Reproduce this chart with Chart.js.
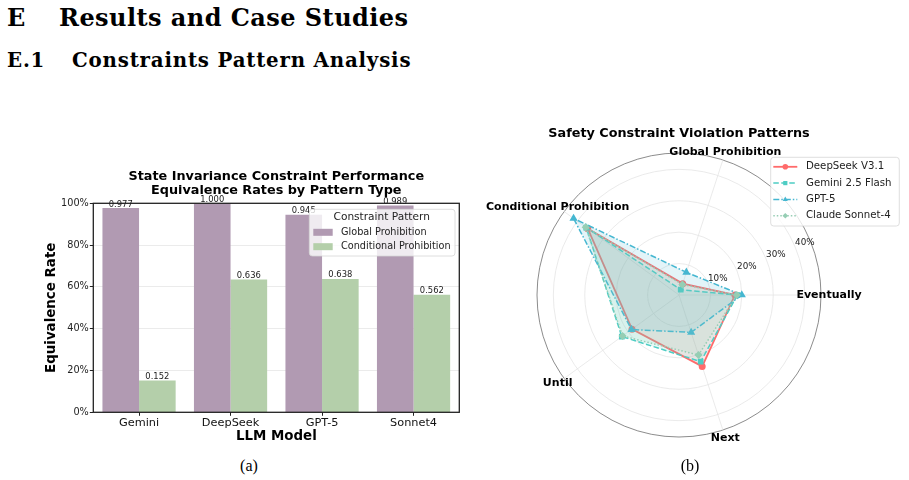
<!DOCTYPE html>
<html>
<head>
<meta charset="utf-8">
<script src="https://cdn.jsdelivr.net/npm/chart.js@4.4.1/dist/chart.umd.min.js"></script>
<style>
  html, body { margin: 0; padding: 0; background: #fff; }
  body { width: 909px; height: 480px; position: relative; overflow: hidden; }
  .hd { position: absolute; font-family: "DejaVu Serif", serif; font-weight: bold; line-height: 1; white-space: nowrap; color: #000; }
  .h1 { font-size: 24px; top: 6px; letter-spacing: 0.45px; }
  .h2 { font-size: 19.8px; top: 51px; letter-spacing: 0.8px; }
  .cap { position: absolute; font-family: "Liberation Serif", serif; font-size: 16px; line-height: 18px; top: 457px; width: 40px; text-align: center; color: #000; }
  canvas { position: absolute; }
</style>
</head>
<body>
<div class="hd h1" style="left:7px">E</div>
<div class="hd h1" style="left:59px">Results and Case Studies</div>
<div class="hd h2" style="left:7px">E.1</div>
<div class="hd h2" style="left:72px">Constraints Pattern Analysis</div>

<canvas id="barChartCanvas" width="470" height="300" style="left:0;top:150px"></canvas>
<canvas id="radarChartCanvas" width="429" height="345" style="left:480px;top:118px"></canvas>

<div class="cap" style="left:229px">(a)</div>
<div class="cap" style="left:670px">(b)</div>

<script>
Chart.defaults.font.family = "'DejaVu Sans', sans-serif";
Chart.defaults.color = '#222';

// 막대 차트 데이터
const models = ['Gemini', 'DeepSeek', 'GPT-5', 'Sonnet4'];
const globalRates = [0.977, 1.000, 0.945, 0.989];
const conditionalRates = [0.152, 0.636, 0.638, 0.562];
const rateTicks = [0, 0.2, 0.4, 0.6, 0.8, 1.0];

// 레이더 차트 데이터 (시계방향, 오른쪽부터)
const patternLabels = ['Eventually', 'Next', 'Until', 'Conditional Prohibition', 'Global Prohibition'];
const deepseekRates = [17.8, 23.9, 18.5, 35.9, 3.8];
const geminiRates = [18.6, 22.3, 22.5, 36.5, 1.8];
const gpt5Rates = [20.0, 12.5, 18.7, 41.5, 7.6];
const claudeRates = [18.4, 20.1, 22.2, 36.7, 3.5];
const radialTicks = [0, 10, 20, 30, 40];
const radialMax = 45.2;

const purple = '#b19ab2';
const green = '#b4cfaa';

function roundRect(ctx, x, y, w, h, r) {
    ctx.beginPath();
    ctx.moveTo(x + r, y);
    ctx.lineTo(x + w - r, y);
    ctx.arcTo(x + w, y, x + w, y + r, r);
    ctx.lineTo(x + w, y + h - r);
    ctx.arcTo(x + w, y + h, x + w - r, y + h, r);
    ctx.lineTo(x + r, y + h);
    ctx.arcTo(x, y + h, x, y + h - r, r);
    ctx.lineTo(x, y + r);
    ctx.arcTo(x, y, x + r, y, r);
    ctx.closePath();
}

function marker(ctx, style, x, y, r) {
    ctx.beginPath();
    if (style === 'circle') {
        ctx.arc(x, y, r, 0, Math.PI * 2);
    } else if (style === 'rect') {
        ctx.rect(x - r * 0.75, y - r * 0.75, r * 1.5, r * 1.5);
    } else if (style === 'triangle') {
        ctx.moveTo(x, y - r);
        ctx.lineTo(x + r * 0.9, y + r * 0.6);
        ctx.lineTo(x - r * 0.9, y + r * 0.6);
        ctx.closePath();
    } else {
        ctx.moveTo(x, y - r);
        ctx.lineTo(x + r, y);
        ctx.lineTo(x, y + r);
        ctx.lineTo(x - r, y);
        ctx.closePath();
    }
    ctx.fill();
}

// 막대 차트 꾸미기: 값, 제목, 범례, 테두리
const barDecor = {
    id: 'barDecor',
    afterDatasetsDraw(chart) {
        const ctx = chart.ctx;
        const a = chart.chartArea;
        ctx.save();

        ctx.font = "8.4px 'DejaVu Sans'";
        ctx.fillStyle = '#222';
        ctx.textAlign = 'center';
        ctx.textBaseline = 'alphabetic';
        chart.data.datasets.forEach((ds, i) => {
            chart.getDatasetMeta(i).data.forEach((bar, j) => {
                ctx.fillText(ds.data[j].toFixed(3), bar.x, bar.y - 1.5);
            });
        });

        const cx = (a.left + a.right) / 2;
        ctx.font = "bold 12.8px 'DejaVu Sans'";
        ctx.fillStyle = '#000';
        ctx.textBaseline = 'middle';
        ctx.fillText('State Invariance Constraint Performance', cx, a.top - 27);
        ctx.fillText('Equivalence Rates by Pattern Type', cx, a.top - 12.8);

        // 범례
        const lx = a.right - 150, ly = a.top + 6;
        roundRect(ctx, lx, ly, 145.7, 46.7, 3);
        ctx.fillStyle = 'rgba(255,255,255,0.8)';
        ctx.fill();
        ctx.strokeStyle = '#d6d6d6';
        ctx.lineWidth = 0.8;
        ctx.stroke();
        ctx.fillStyle = '#222';
        ctx.font = "10.6px 'DejaVu Sans'";
        ctx.fillText('Constraint Pattern', lx + 72.4, ly + 8);
        ctx.textAlign = 'left';
        ctx.font = "9.7px 'DejaVu Sans'";
        chart.data.datasets.forEach((ds, i) => {
            const yy = ly + 23 + i * 14.4;
            ctx.fillStyle = ds.backgroundColor;
            ctx.fillRect(lx + 4, yy - 3.5, 19.4, 7);
            ctx.fillStyle = '#222';
            ctx.fillText(ds.label, lx + 31.7, yy);
        });

        ctx.strokeStyle = '#222';
        ctx.lineWidth = 1.3;
        ctx.strokeRect(a.left, a.top, a.right - a.left, a.bottom - a.top);
        ctx.restore();
    }
};

new Chart(document.getElementById('barChartCanvas'), {
    type: 'bar',
    data: {
        labels: models,
        datasets: [{
            label: 'Global Prohibition',
            data: globalRates,
            backgroundColor: purple,
            categoryPercentage: 0.8,
            barPercentage: 1.0
        }, {
            label: 'Conditional Prohibition',
            data: conditionalRates,
            backgroundColor: green,
            categoryPercentage: 0.8,
            barPercentage: 1.0
        }]
    },
    options: {
        responsive: false,
        animation: false,
        layout: { padding: { left: 0, right: 10.7, top: 53.3, bottom: 0 } },
        plugins: { legend: { display: false }, tooltip: { enabled: false } },
        scales: {
            x: {
                afterFit: s => { s.height = 37.7; },
                grid: { offset: false, drawOnChartArea: false, tickLength: 3.5, tickColor: '#222', tickWidth: 1 },
                border: { display: false },
                ticks: { font: { size: 11.3 }, color: '#111', padding: 0.5 },
                title: {
                    display: true, text: 'LLM Model', color: '#000',
                    font: { size: 13.4, weight: 'bold' },
                    padding: { top: 0, bottom: 5 }
                }
            },
            y: {
                min: 0,
                max: 1,
                afterFit: s => { s.width = 93.3; },
                afterBuildTicks: s => { s.ticks = rateTicks.map(v => ({ value: v })); },
                grid: {
                    color: c => (c.tick && c.tick.value > 0.01 && c.tick.value < 0.99) ? '#e6e6e6' : 'rgba(0,0,0,0)',
                    lineWidth: 0.8,
                    tickLength: 3.5,
                    tickColor: '#222',
                    tickWidth: 1
                },
                border: { display: false },
                ticks: {
                    callback: v => Math.round(v * 100) + '%',
                    font: { size: 9.7 }, color: '#222', padding: 1
                },
                title: {
                    display: true, text: 'Equivalence Rate', color: '#000',
                    font: { size: 13.4, weight: 'bold' },
                    padding: { top: 43.7, bottom: 0 }
                }
            }
        }
    },
    plugins: [barDecor]
});

// 레이더 차트 꾸미기: 눈금 글자, 축 이름, 제목, 범례
const radarDecor = {
    id: 'radarDecor',
    afterDatasetsDraw(chart) {
        const ctx = chart.ctx;
        const r = chart.scales.r;
        ctx.save();

        ctx.font = "8.8px 'DejaVu Sans'";
        ctx.fillStyle = '#222';
        ctx.textAlign = 'left';
        ctx.textBaseline = 'bottom';
        const ang = 22.5 * Math.PI / 180;
        radialTicks.slice(1).forEach(v => {
            const d = r.getDistanceFromCenterForValue(v);
            ctx.fillText(v + '%', r.xCenter + d * Math.cos(ang), r.yCenter - d * Math.sin(ang));
        });

        ctx.font = "bold 11px 'DejaVu Sans'";
        ctx.fillStyle = '#000';
        ctx.textAlign = 'center';
        ctx.textBaseline = 'middle';
        patternLabels.forEach((lab, i) => {
            const p = r.getPointPosition(i, r.drawingArea + 8);
            ctx.fillText(lab, p.x, p.y);
        });

        ctx.font = "bold 12.8px 'DejaVu Sans'";
        ctx.fillText('Safety Constraint Violation Patterns', r.xCenter, 15.3);

        // 범례
        const lx = 290.7, ly = 39.3;
        roundRect(ctx, lx, ly, 128.6, 68.7, 3);
        ctx.fillStyle = 'rgba(255,255,255,0.8)';
        ctx.fill();
        ctx.strokeStyle = '#d6d6d6';
        ctx.lineWidth = 0.8;
        ctx.stroke();
        ctx.font = "10.2px 'DejaVu Sans'";
        ctx.textAlign = 'left';
        chart.data.datasets.forEach((ds, i) => {
            const yy = ly + 9.5 + i * 16.3;
            ctx.strokeStyle = ds.borderColor;
            ctx.lineWidth = ds.borderWidth;
            ctx.setLineDash(ds.borderDash || []);
            ctx.beginPath();
            ctx.moveTo(lx + 2.6, yy);
            ctx.lineTo(lx + 26.6, yy);
            ctx.stroke();
            ctx.setLineDash([]);
            ctx.fillStyle = ds.borderColor;
            marker(ctx, ds.pointStyle, lx + 14.6, yy, 2.8);
            ctx.fillStyle = '#222';
            ctx.fillText(ds.label, lx + 35.3, yy);
        });
        ctx.restore();
    }
};

new Chart(document.getElementById('radarChartCanvas'), {
    type: 'radar',
    data: {
        labels: patternLabels,
        datasets: [{
            label: 'DeepSeek V3.1',
            data: deepseekRates,
            borderColor: '#FF6B6B',
            backgroundColor: 'rgba(255,107,107,0.15)',
            borderWidth: 1.8,
            pointStyle: 'circle',
            pointRadius: 2.6,
            pointBackgroundColor: '#FF6B6B',
            pointBorderColor: '#FF6B6B',
            fill: true,
            order: 4
        }, {
            label: 'Gemini 2.5 Flash',
            data: geminiRates,
            borderColor: '#4ECDC4',
            backgroundColor: 'rgba(78,205,196,0.15)',
            borderWidth: 1.5,
            borderDash: [5.5, 2.5],
            pointStyle: 'rect',
            pointRadius: 3,
            pointBackgroundColor: '#4ECDC4',
            pointBorderColor: '#4ECDC4',
            fill: true,
            order: 3
        }, {
            label: 'GPT-5',
            data: gpt5Rates,
            borderColor: '#45B7D1',
            backgroundColor: 'rgba(69,183,209,0.15)',
            borderWidth: 1.5,
            borderDash: [6, 2, 1.5, 2],
            pointStyle: 'triangle',
            pointRadius: 3.2,
            pointBackgroundColor: '#45B7D1',
            pointBorderColor: '#45B7D1',
            fill: true,
            order: 2
        }, {
            label: 'Claude Sonnet-4',
            data: claudeRates,
            borderColor: '#96CEB4',
            backgroundColor: 'rgba(150,206,180,0.15)',
            borderWidth: 1.5,
            borderDash: [1.5, 2],
            pointStyle: 'rectRot',
            pointRadius: 3,
            pointBackgroundColor: '#96CEB4',
            pointBorderColor: '#96CEB4',
            fill: true,
            order: 1
        }]
    },
    options: {
        responsive: false,
        animation: false,
        layout: { padding: { left: 57, right: 88, top: 35, bottom: 26 } },
        plugins: { legend: { display: false }, tooltip: { enabled: false } },
        elements: { line: { tension: 0 } },
        scales: {
            r: {
                min: 0,
                max: radialMax,
                startAngle: 90,
                afterBuildTicks: s => { s.ticks = radialTicks.concat([radialMax]).map(v => ({ value: v })); },
                ticks: { display: false },
                pointLabels: { display: false },
                grid: {
                    circular: true,
                    color: c => (c.tick && c.tick.value === radialMax) ? '#6e6e6e' : '#e4e4e4',
                    lineWidth: 0.8
                },
                angleLines: { color: '#e4e4e4', lineWidth: 0.8 }
            }
        }
    },
    plugins: [radarDecor]
});
</script>
</body>
</html>
